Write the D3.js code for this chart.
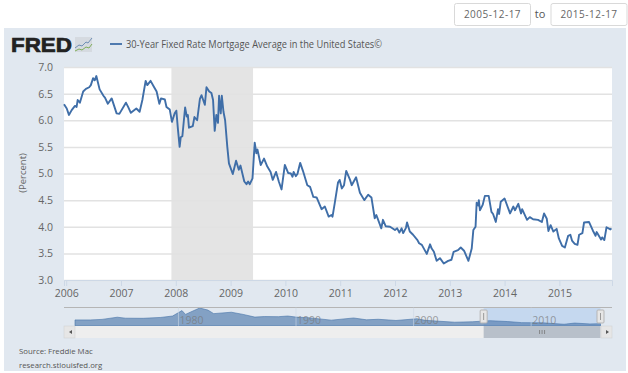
<!DOCTYPE html>
<html>
<head>
<meta charset="utf-8">
<script src="https://cdn.jsdelivr.net/npm/d3@7"></script>
<style>
  html, body { margin: 0; padding: 0; background: #fff; }
  svg { display: block; font-family: "Open Sans", sans-serif; }
</style>
</head>
<body>
<svg></svg>
<script>
// decimal years + weekly mortgage rate
const years = [2005.96,2006.01,2006.05,2006.10,2006.16,2006.19,2006.21,2006.25,2006.31,2006.36,2006.42,2006.45,2006.49,2006.52,2006.55,2006.61,2006.68,2006.71,2006.76,2006.83,2006.92,2006.97,
  2007.09,2007.13,2007.18,2007.28,2007.34,2007.39,2007.45,2007.48,2007.54,2007.60,2007.65,2007.70,2007.73,2007.80,2007.83,2007.89,2007.93,2007.98,
  2008.01,2008.04,2008.07,2008.09,2008.12,2008.17,2008.20,2008.22,2008.24,2008.31,2008.34,2008.39,2008.44,2008.47,2008.53,2008.56,2008.61,2008.65,2008.68,2008.71,2008.74,2008.77,2008.79,2008.82,2008.84,2008.87,2008.90,2008.94,2008.97,
  2009.04,2009.10,2009.15,2009.18,2009.25,2009.29,2009.32,2009.35,2009.40,2009.44,2009.47,2009.49,2009.55,2009.61,2009.67,2009.73,2009.77,2009.83,2009.88,2009.93,2009.99,
  2010.05,2010.10,2010.13,2010.15,2010.19,2010.22,2010.27,2010.32,2010.40,2010.45,2010.51,2010.57,2010.66,2010.72,2010.79,2010.84,2010.86,2010.90,2010.96,2010.99,
  2011.03,2011.07,2011.11,2011.18,2011.21,2011.29,2011.36,2011.44,2011.51,2011.57,2011.63,2011.66,2011.75,2011.78,2011.83,2011.91,
  2012.00,2012.04,2012.08,2012.12,2012.15,2012.20,2012.22,2012.27,2012.33,2012.41,2012.44,2012.49,2012.58,2012.64,2012.67,2012.71,2012.76,2012.82,2012.89,2012.97,
  2013.03,2013.07,2013.15,2013.20,2013.26,2013.34,2013.40,2013.43,2013.47,2013.49,2013.52,2013.53,2013.55,2013.60,2013.64,2013.71,2013.76,2013.79,2013.84,2013.88,2013.90,2013.93,
  2014.00,2014.10,2014.16,2014.19,2014.25,2014.30,2014.32,2014.41,2014.46,2014.52,2014.61,2014.68,2014.72,2014.77,2014.80,2014.84,2014.89,2014.95,2014.99,
  2015.05,2015.10,2015.16,2015.20,2015.23,2015.28,2015.33,2015.36,2015.42,2015.45,2015.54,2015.61,2015.66,2015.68,2015.76,2015.78,2015.82,2015.86,2015.93,2015.95]
const rates = [6.30,6.22,6.10,6.19,6.27,6.25,6.38,6.33,6.54,6.59,6.62,6.66,6.79,6.75,6.83,6.58,6.46,6.42,6.31,6.41,6.13,6.12,
  6.33,6.25,6.14,6.22,6.16,6.38,6.74,6.66,6.74,6.63,6.54,6.31,6.41,6.39,6.25,6.20,5.97,6.13,
  6.18,5.82,5.50,5.68,5.70,6.24,6.07,6.10,5.86,5.89,6.06,6.00,6.40,6.47,6.29,6.62,6.54,6.51,6.38,5.80,6.10,5.95,6.46,6.13,6.46,6.16,6.00,5.50,5.19,
  4.99,5.24,5.07,5.15,4.85,4.80,4.85,4.80,4.91,5.58,5.38,5.45,5.16,5.28,5.13,5.03,4.88,5.03,4.85,4.70,5.16,
  5.01,5.00,4.94,5.03,4.95,4.99,5.20,5.05,4.78,4.75,4.56,4.55,4.33,4.38,4.19,4.22,4.19,4.44,4.83,4.88,
  4.72,4.78,5.05,4.88,4.78,4.93,4.64,4.50,4.60,4.55,4.16,4.22,3.97,4.13,4.01,4.00,
  3.94,3.97,3.89,3.97,3.88,3.98,4.08,3.91,3.85,3.75,3.69,3.66,3.49,3.67,3.59,3.53,3.36,3.41,3.31,3.36,
  3.38,3.53,3.56,3.61,3.55,3.36,3.59,3.94,4.00,4.45,4.40,4.50,4.31,4.41,4.58,4.58,4.28,4.24,4.09,4.33,4.24,4.47,
  4.53,4.25,4.38,4.31,4.43,4.25,4.33,4.13,4.18,4.14,4.13,4.09,4.25,4.15,3.92,4.03,3.91,3.96,3.78,
  3.64,3.61,3.83,3.85,3.74,3.68,3.66,3.85,3.88,4.08,4.09,3.93,3.83,3.90,3.76,3.80,3.75,3.99,3.95,3.97]

const recession = [2007.92, 2009.41]
const yTicks = [3, 3.5, 4, 4.5, 5, 5.5, 6, 6.5, 7]
const xTicks = [2006, 2007, 2008, 2009, 2010, 2011, 2012, 2013, 2014, 2015]

// long history shown in the little navigator under the chart
const navYears = [1971.2,1972.5,1973.5,1974.8,1975.5,1977,1978.5,1979.5,1980.3,1980.6,1981,1981.8,1982.5,1983,1984.5,1985.5,1986.5,1987.3,1988.5,1989.3,1990,1991,1993,1994.9,1996,1997,1998.5,2000.3,2001,2003.5,2005,2006.5,2008,2009.2,2011,2012.8,2013.7,2015,2015.9]
const navRates = [7.4,7.4,7.9,9.9,9.0,8.9,9.7,11,16,12.5,14.5,18.4,16.5,13.2,14.5,12.5,10,10.5,10.4,11,10,9.5,7.2,9.2,7.5,8,6.9,8.5,7,5.3,5.7,6.7,5.9,4.9,4.7,3.4,4.5,3.7,3.95]
const navTicks = [1980, 1990, 2000, 2010]

const width = 628
const height = 373
const plotLeft = 64
const plotRight = 612
const plotTop = 67
const plotBottom = 280
const navTop = 307.5
const navBottom = 326
const barBottom = 338
const lineBlue = "#3f6ea8"

const svg = d3.select("svg").attr("width", width).attr("height", height)

// ------- panel
svg.append("rect").attr("x", 4).attr("y", 28).attr("width", 622).attr("height", 343).attr("fill", "#e1e8f0")
svg.append("rect").attr("x", plotLeft).attr("y", plotTop).attr("width", plotRight - plotLeft).attr("height", plotBottom - plotTop).attr("fill", "#fff")

const x = d3.scaleLinear().domain([2005.96, 2015.96]).range([plotLeft, plotRight])
const y = d3.scaleLinear().domain([3, 7]).range([plotBottom, plotTop])

// ------- recession band
svg.append("rect")
  .attr("x", x(recession[0]))
  .attr("y", plotTop)
  .attr("width", x(recession[1]) - x(recession[0]))
  .attr("height", plotBottom - plotTop)
  .attr("fill", "#e4e4e4")

// ------- y axis + grid
svg.append("g")
  .attr("transform", `translate(${plotLeft}, 0)`)
  .call(d3.axisLeft(y).tickValues(yTicks).tickFormat(d3.format(".1f")).tickSize(-(plotRight - plotLeft)).tickPadding(11))
  .call(g => g.select(".domain").remove())
  .call(g => g.selectAll(".tick line").attr("stroke", "#e2e2e2").attr("stroke-width", 1.5))
  .call(g => g.selectAll(".tick text").attr("fill", "#666").attr("font-size", 10.5).attr("font-family", "Open Sans"))

// ------- x axis
svg.append("g")
  .attr("transform", `translate(0, ${plotBottom})`)
  .call(d3.axisBottom(x).tickValues(xTicks).tickFormat(d3.format("d")).tickSize(6).tickPadding(4))
  .call(g => g.select(".domain").attr("stroke", "#cdd8e6"))
  .call(g => g.selectAll(".tick line").attr("stroke", "#cdd8e6"))
  .call(g => g.selectAll(".tick text").attr("fill", "#666").attr("font-size", 10.5).attr("font-family", "Open Sans"))

// ------- main line
const line = d3.line().x((d, i) => x(years[i])).y(d => y(d))
svg.append("path")
  .datum(rates)
  .attr("fill", "none")
  .attr("stroke", lineBlue)
  .attr("stroke-width", 1.9)
  .attr("stroke-linejoin", "round")
  .attr("d", line)

// ------- header
svg.append("text").attr("x", 11).attr("y", 52)
  .attr("font-family", "Liberation Sans").attr("font-weight", 700).attr("font-size", 21)
  .attr("fill", "#222").attr("stroke", "#222").attr("stroke-width", 0.7)
  .attr("textLength", 61).attr("lengthAdjust", "spacingAndGlyphs")
  .text("FRED")

const logo = svg.append("g").attr("transform", "translate(75, 37)")
logo.append("rect").attr("width", 17).attr("height", 15).attr("fill", "#d5dae0")
logo.append("path").attr("d", "M0 11L4 8L7 9L11 5L13 6L17 1").attr("fill", "none").attr("stroke", "#6f8fb5").attr("stroke-width", 1)
logo.append("path").attr("d", "M0 14L4 12L7 13L11 10L14 11L17 7").attr("fill", "none").attr("stroke", "#7fae5a").attr("stroke-width", 1)

svg.append("line").attr("x1", 110).attr("x2", 122).attr("y1", 44).attr("y2", 44).attr("stroke", lineBlue).attr("stroke-width", 1.8)
svg.append("text").attr("x", 126).attr("y", 47.5)
  .attr("font-size", 10.6).attr("fill", "#555")
  .attr("textLength", 256).attr("lengthAdjust", "spacingAndGlyphs")
  .text("30-Year Fixed Rate Mortgage Average in the United States©")

svg.append("text")
  .attr("transform", `translate(26, 173) rotate(-90)`)
  .attr("text-anchor", "middle").attr("font-size", 9.5).attr("fill", "#666")
  .text("(Percent)")

// ------- date boxes
const boxes = [[454.5, 76, "2005-12-17"], [551, 76, "2015-12-17"]]
boxes.forEach(b => {
  svg.append("rect").attr("x", b[0]).attr("y", 3.5).attr("width", b[1]).attr("height", 22).attr("rx", 2)
    .attr("fill", "#fff").attr("stroke", "#d9d9d9")
  svg.append("text").attr("x", b[0] + b[1] / 2).attr("y", 18).attr("text-anchor", "middle")
    .attr("font-size", 10).attr("fill", "#666").attr("letter-spacing", 0.5).text(b[2])
})
svg.append("text").attr("x", 540).attr("y", 18).attr("text-anchor", "middle").attr("font-size", 11).attr("fill", "#555").text("to")

// ------- navigator
const navX = d3.scaleLinear().domain([1971.2, 2015.9]).range([75, 600.5])
const navY = d3.scaleLinear().domain([1.8, 18.4]).range([navBottom, 308])

svg.append("rect").attr("x", navX(2005.96)).attr("y", navTop)
  .attr("width", navX(2015.9) - navX(2005.96)).attr("height", navBottom - navTop).attr("fill", "#c5d8ef")

const navArea = d3.area().x((d, i) => navX(navYears[i])).y0(navBottom).y1(d => navY(d))
svg.append("path").datum(navRates)
  .attr("fill", "#4572a7").attr("fill-opacity", 0.6)
  .attr("stroke", "#4572a7").attr("stroke-width", 0.6)
  .attr("d", navArea)

svg.append("line").attr("x1", plotLeft).attr("x2", plotRight).attr("y1", navTop).attr("y2", navTop).attr("stroke", "#b5b5b5")

svg.append("g").selectAll("line").data(navTicks).join("line")
  .attr("x1", d => navX(d)).attr("x2", d => navX(d)).attr("y1", navTop).attr("y2", navBottom)
  .attr("stroke", "#cdd8e6").attr("stroke-width", 0.6)
svg.append("g").selectAll("text").data(navTicks).join("text")
  .attr("x", d => navX(d) + 13).attr("y", 324).attr("text-anchor", "middle")
  .attr("font-size", 10.5).attr("fill", "#777").attr("fill-opacity", 0.7).text(d => d)

// ------- scrollbar
svg.append("rect").attr("x", plotLeft).attr("y", navBottom).attr("width", plotRight - plotLeft).attr("height", barBottom - navBottom).attr("fill", "#eeeeee")
svg.append("rect").attr("x", navX(2005.96)).attr("y", navBottom).attr("width", navX(2015.9) - navX(2005.96)).attr("height", barBottom - navBottom).attr("fill", "#b8c0ca")
;[[plotLeft, "M72 330L69 332L72 334Z"], [601, "M606 330L609 332L606 334Z"]].forEach(b => {
  svg.append("rect").attr("x", b[0]).attr("y", navBottom).attr("width", 11).attr("height", barBottom - navBottom)
    .attr("fill", "#e6e6e6").attr("stroke", "#cfcfcf").attr("stroke-width", 0.5)
  svg.append("path").attr("d", b[1]).attr("fill", "#555")
})
const gripX = (navX(2005.96) + navX(2015.9)) / 2
;[-2.5, 0, 2.5].forEach(o => {
  svg.append("line").attr("x1", gripX + o).attr("x2", gripX + o).attr("y1", 330).attr("y2", 334).attr("stroke", "#777").attr("stroke-width", 0.8)
})
;[2005.96, 2015.9].forEach(d => {
  const hx = navX(d)
  svg.append("rect").attr("x", hx - 3.5).attr("y", 310).attr("width", 7).attr("height", 13).attr("rx", 1)
    .attr("fill", "#e6e6e6").attr("stroke", "#b5b5b5")
  svg.append("line").attr("x1", hx).attr("x2", hx).attr("y1", 313).attr("y2", 320).attr("stroke", "#999")
})

// ------- footer
svg.append("text").attr("x", 19).attr("y", 354).attr("font-size", 7.8).attr("fill", "#555").text("Source: Freddie Mac")
svg.append("text").attr("x", 19).attr("y", 368).attr("font-size", 7.8).attr("fill", "#555").text("research.stlouisfed.org")
</script>
</body>
</html>
